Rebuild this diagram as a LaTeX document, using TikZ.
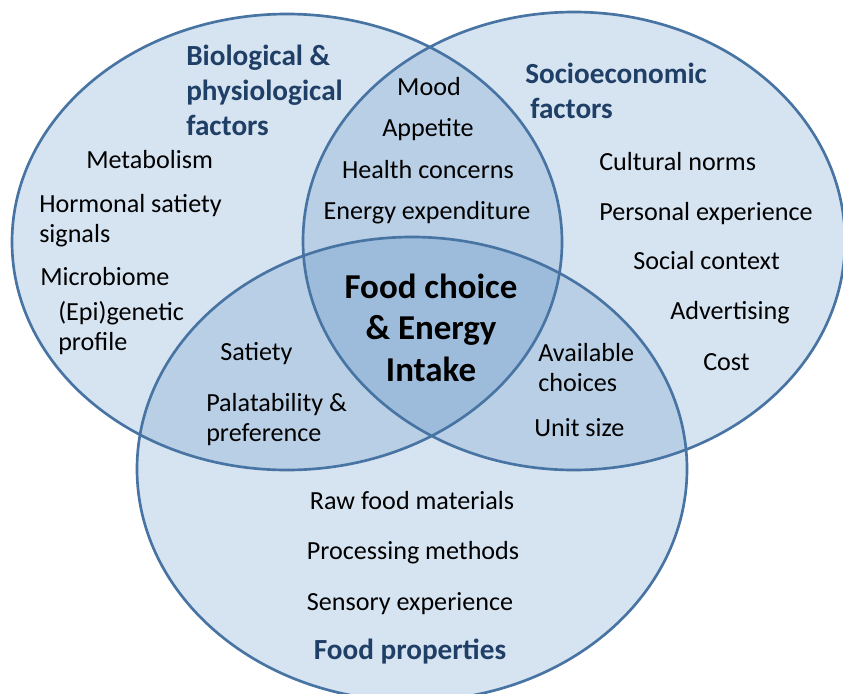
\documentclass[tikz,border=0pt]{standalone}
\usepackage{fontspec}
\setmainfont{Carlito}
\definecolor{cone}{HTML}{D6E3F1}
\definecolor{ctwo}{HTML}{B9CFE6}
\definecolor{cthree}{HTML}{9DBCDB}
\definecolor{cline}{HTML}{4874A3}
\definecolor{ctitle}{HTML}{1F3F66}
\tikzset{
  item/.style={anchor=base west, inner sep=0pt, font=\fontsize{19.6}{23}\selectfont, text=black},
  itemc/.style={anchor=base, inner sep=0pt, font=\fontsize{19.6}{23}\selectfont, text=black},
  ttl/.style={anchor=base west, inner sep=0pt, font=\fontsize{21.9}{26}\selectfont\bfseries, text=ctitle},
  ttlc/.style={anchor=base, inner sep=0pt, font=\fontsize{21.9}{26}\selectfont\bfseries, text=ctitle},
  core/.style={anchor=base, inner sep=0pt, font=\fontsize{26.2}{31}\selectfont\bfseries, text=black},
  outline/.style={draw=cline, line width=2pt}
}
\begin{document}
\begin{tikzpicture}[x=0.75pt,y=-0.75pt]
\useasboundingbox (0,0) rectangle (843,693);
\clip (0,0) rectangle (843,693);
\def\Lell{(287,242) ellipse [x radius=206.25pt, y radius=171pt]}
\def\Rell{(574,241) ellipse [x radius=203.25pt, y radius=171.75pt]}
\def\Bell{(412,469) ellipse [x radius=206.25pt, y radius=174pt]}
% single fills
\fill[cone] \Lell;
\fill[cone] \Rell;
\fill[cone] \Bell;
% pairwise overlaps
\begin{scope}
  \clip \Lell;
  \fill[ctwo] \Rell;
  \fill[ctwo] \Bell;
\end{scope}
\begin{scope}
  \clip \Rell;
  \fill[ctwo] \Bell;
\end{scope}
% triple overlap
\begin{scope}
  \clip \Lell;
  \clip \Rell;
  \fill[cthree] \Bell;
\end{scope}
% outlines
\draw[outline] \Lell;
\draw[outline] \Rell;
\draw[outline] \Bell;

% titles
\node[ttl] (bio1) at (186,65) {Biological \&};
\node[ttl] (bio2) at (186,100) {physiological};
\node[ttl] (bio3) at (186,135) {factors};
\node[ttl] (soc1) at (525,83) {Socioeconomic};
\node[ttl] (soc2) at (530,118) {factors};
\node[ttlc] (food) at (410,659) {Food properties};

% core
\node[core] (core1) at (431,298) {Food choice};
\node[core] (core2) at (431,339) {\& Energy};
\node[core] (core3) at (431,381) {Intake};

% biological only
\node[item] (met) at (86,168) {Metabolism};
\node[item] (hor1) at (39,212) {Hormonal satiety};
\node[item] (hor2) at (39,242) {signals};
\node[item] (mic) at (40,285) {Microbiome};
\node[item] (epi1) at (58,320) {(Epi)genetic};
\node[item] (epi2) at (58,350) {profile};

% bio & socio
\node[itemc] (mood) at (429,95) {Mood};
\node[itemc] (app) at (428,136) {Appetite};
\node[itemc] (hea) at (428,178) {Health concerns};
\node[itemc] (ene) at (427,219) {Energy expenditure};

% socio only
\node[item] (cul) at (599,170) {Cultural norms};
\node[item] (per) at (599,220) {Personal experience};
\node[item] (soc) at (633,269) {Social context};
\node[item] (adv) at (670,319) {Advertising};
\node[item] (cost) at (703,370) {Cost};

% bio & food
\node[item] (sat) at (220,360) {Satiety};
\node[item] (pal1) at (206,411) {Palatability \&};
\node[item] (pal2) at (206,441) {preference};

% socio & food
\node[item] (ava1) at (538,361) {Available};
\node[item] (ava2) at (538,391) {choices};
\node[item] (uni) at (534,436) {Unit size};

% food only
\node[itemc] (raw) at (412,509) {Raw food materials};
\node[itemc] (pro) at (413,559) {Processing methods};
\node[itemc] (sen) at (410,610) {Sensory experience};
\end{tikzpicture}
\end{document}
